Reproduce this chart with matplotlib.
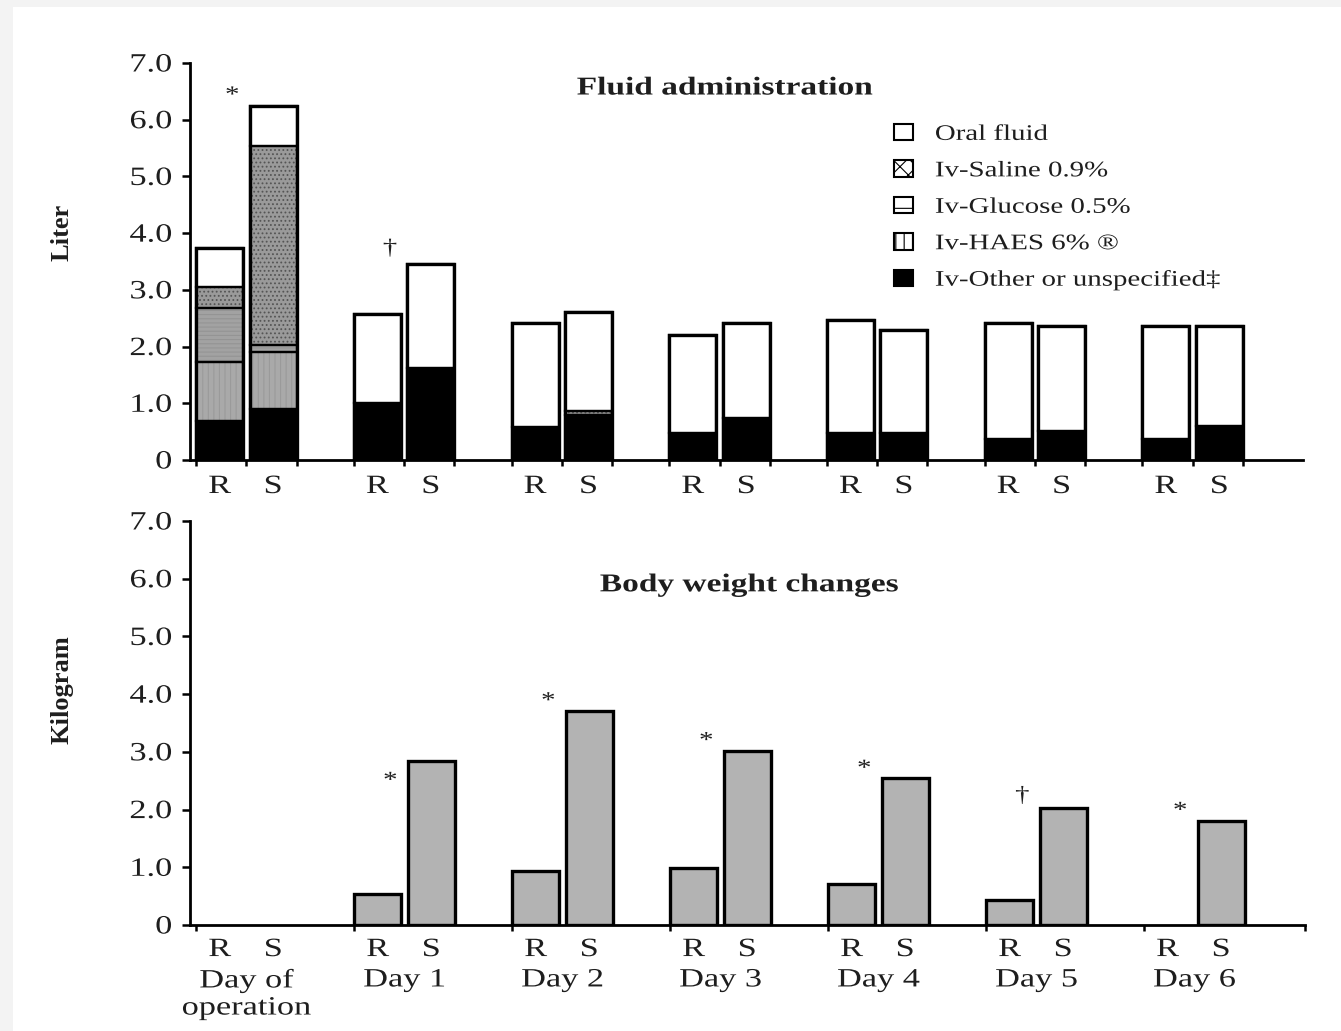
import numpy as np
import matplotlib
matplotlib.use("Agg")
import matplotlib.pyplot as plt
from matplotlib.patches import Patch, Rectangle
from matplotlib.patheffects import AbstractPathEffect
from matplotlib.transforms import Affine2D

plt.rcParams['font.family'] = ['Liberation Serif', 'DejaVu Serif']
plt.rcParams['hatch.linewidth'] = 0.8

days = ['Day of\noperation', 'Day 1', 'Day 2', 'Day 3', 'Day 4', 'Day 5', 'Day 6']
groups = ['R', 'S']

# fluid administration, litres (stacked bottom -> top)
other_R = [0.69, 1.00, 0.58, 0.48, 0.47, 0.37, 0.37]
other_S = [0.90, 1.63, 0.80, 0.74, 0.48, 0.52, 0.60]
haes_R = [1.03, 0, 0, 0, 0, 0, 0]
haes_S = [1.00, 0, 0, 0, 0, 0, 0]
glucose_R = [0.96, 0, 0, 0, 0, 0, 0]
glucose_S = [0.12, 0, 0, 0, 0, 0, 0]
saline_R = [0.37, 0, 0, 0, 0, 0, 0]
saline_S = [3.51, 0, 0.06, 0, 0, 0, 0]
oral_R = [0.68, 1.58, 1.83, 1.72, 1.99, 2.05, 2.00]
oral_S = [0.71, 1.83, 1.75, 1.67, 1.82, 1.85, 1.77]

# body weight changes, kg
weight_R = [0, 0.53, 0.94, 0.99, 0.71, 0.43, 0]
weight_S = [0, 2.84, 3.70, 3.02, 2.55, 2.03, 1.80]

# significance marks
fluid_sig = ['*', '\u2020', '', '', '', '', '']
fluid_sig_y = [6.41, 3.71, 0, 0, 0, 0, 0]
weight_sig = ['', '*', '*', '*', '*', '\u2020', '*']
weight_sig_y = [0, 2.48, 3.86, 3.17, 2.69, 2.22, 1.96]

legend_labels = ['Oral fluid', 'Iv-Saline 0.9%', 'Iv-Glucose 0.5%',
                 'Iv-HAES 6% \u00ae', 'Iv-Other or unspecified\u2021']


class HStretch(AbstractPathEffect):
    # the scanned figure is wider than tall, so glyphs look stretched sideways
    def __init__(self, sx=1.3, anchor='center'):
        super().__init__()
        self.sx = sx
        self.anchor = anchor

    def draw_path(self, renderer, gc, tpath, affine, rgbFace=None):
        ext = tpath.get_extents()
        cx = {'left': ext.x0, 'center': (ext.x0 + ext.x1) / 2, 'right': ext.x1}[self.anchor]
        st = Affine2D().translate(-cx, 0).scale(self.sx, 1).translate(cx, 0)
        renderer.draw_path(gc, tpath, st + affine, rgbFace)


SX = 1.3
stretch_c = [HStretch(SX, 'center')]

txt = '#1e1e1e'
x = np.arange(len(days))
w = 0.298
off = 0.169
xlim = (-0.358, 6.70)

fig = plt.figure(figsize=(13.41, 10.31), dpi=100)
fig.patch.set_facecolor('#f3f3f3')
fig.patches.append(Rectangle((13 / 1341, 0), 1, 1 - 7 / 1031, transform=fig.transFigure,
                             facecolor='white', edgecolor='none', zorder=-10))

ax1 = fig.add_axes([190 / 1341, 1 - 460 / 1031, 1113 / 1341, 397 / 1031])
ax2 = fig.add_axes([190 / 1341, 1 - 925 / 1031, 1115 / 1341, 404 / 1031])

# segment styles: (values R, values S, face, hatch, hatch colour)
segments = [
    (other_R, other_S, 'black', '', 'black'),
    (haes_R, haes_S, '#a9a9a9', '|||', '#9a9a9a'),
    (glucose_R, glucose_S, '#a2a2a2', '----', '#949494'),
    (saline_R, saline_S, '#9a9a9a', '....', '#555555'),
    (oral_R, oral_S, 'white', '', 'white'),
]

for xs, side in [(x - off, 0), (x + off, 1)]:
    bottom = np.zeros(len(days))
    for seg in segments:
        vals = np.array(seg[side])
        ax1.bar(xs, vals, w, bottom=bottom, color=seg[2], hatch=seg[3],
                edgecolor=seg[4], linewidth=0, zorder=2)
        ax1.bar(xs, np.where(vals > 0, vals, np.nan), w, bottom=bottom, fill=False,
                edgecolor='black', linewidth=1.6, zorder=3)
        bottom += vals
    ax1.bar(xs, bottom, w, fill=False, edgecolor='black', linewidth=2.4, zorder=4)

ax2.bar(x - off, np.where(np.array(weight_R) > 0, weight_R, np.nan), w,
        color='#b3b3b3', edgecolor='black', linewidth=2.4, zorder=2)
ax2.bar(x + off, np.where(np.array(weight_S) > 0, weight_S, np.nan), w,
        color='#b3b3b3', edgecolor='black', linewidth=2.4, zorder=2)

for i in range(len(days)):
    if fluid_sig[i]:
        ax1.text(x[i] - 0.09, fluid_sig_y[i], fluid_sig[i], ha='center', va='center',
                 fontsize=16, color=txt, path_effects=stretch_c)
    if weight_sig[i]:
        ax2.text(x[i] - 0.09, weight_sig_y[i], weight_sig[i], ha='center', va='center',
                 fontsize=16, color=txt, path_effects=stretch_c)

for ax, rs_y in [(ax1, -0.068), (ax2, -0.062)]:
    ax.set_xlim(*xlim)
    ax.set_ylim(0, 7)
    ax.set_yticks(np.arange(0, 8))
    ax.set_yticklabels(['0'] + ['%.1f' % v for v in range(1, 8)])
    for lab in ax.get_yticklabels():
        lab.set_path_effects([HStretch(SX, 'right')])
    for s in ['top', 'right']:
        ax.spines[s].set_visible(False)
    ax.spines['left'].set_linewidth(2)
    ax.spines['bottom'].set_linewidth(2)
    ax.tick_params(axis='y', length=6, width=1.8, pad=7, labelsize=19, labelcolor=txt)
    ax.tick_params(axis='x', length=4, width=1.8, labelbottom=False)
    ax.patch.set_alpha(0)
    tr = ax.get_xaxis_transform()
    for i in range(len(days)):
        ax.text(x[i] - off, rs_y, groups[0], transform=tr, ha='center', va='center',
                fontsize=19, color=txt, path_effects=stretch_c)
        ax.text(x[i] + off, rs_y, groups[1], transform=tr, ha='center', va='center',
                fontsize=19, color=txt, path_effects=stretch_c)

edges = np.concatenate([x - off - w / 2, x, x + off + w / 2])
ax1.set_xticks(np.sort(edges))
ax2.set_xticks(list(x - off - w / 2) + [xlim[1]])

tr2 = ax2.get_xaxis_transform()
for i, d in enumerate(days):
    ax2.text(x[i], -0.11, d, transform=tr2, ha='center', va='top', fontsize=19,
             color=txt, linespacing=1.3, path_effects=stretch_c)

ax1.text(0.481, 0.937, 'Fluid administration', transform=ax1.transAxes, ha='center',
         va='center', fontsize=18.5, fontweight='bold', color=txt, path_effects=stretch_c)
ax2.text(0.502, 0.842, 'Body weight changes', transform=ax2.transAxes, ha='center',
         va='center', fontsize=18.5, fontweight='bold', color=txt, path_effects=stretch_c)

fig.text(62 / 1341, 1 - 232 / 1031, 'Liter', rotation=90, ha='center', va='center',
         fontsize=19, fontweight='bold', color=txt)
fig.text(62 / 1341, 1 - 690 / 1031, 'Kilogram', rotation=90, ha='center', va='center',
         fontsize=19, fontweight='bold', color=txt)

handles = [
    Patch(facecolor='white', edgecolor='black', linewidth=1.5),
    Patch(facecolor='white', edgecolor='black', hatch='xx', linewidth=1.5),
    Patch(facecolor='white', edgecolor='black', hatch='-', linewidth=1.5),
    Patch(facecolor='white', edgecolor='black', hatch='||', linewidth=1.5),
    Patch(facecolor='black', edgecolor='black', linewidth=1.5),
]
leg = fig.legend(handles, legend_labels, loc='upper left',
                 bbox_to_anchor=(874 / 1341, 1 - 104 / 1031), frameon=False,
                 fontsize=16, handlelength=0.85, handleheight=0.75, handletextpad=1.0,
                 labelspacing=0.7, labelcolor=txt)
for t in leg.get_texts():
    t.set_path_effects([HStretch(SX, 'left')])

fig.savefig('out.png', dpi=100, facecolor=fig.get_facecolor())
